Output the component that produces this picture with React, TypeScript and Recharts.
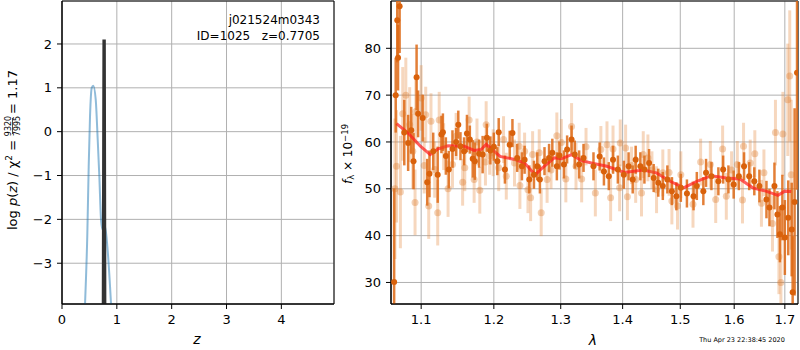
import React from "react";
import {
  LineChart,
  Line,
  ComposedChart,
  Scatter,
  ErrorBar,
  XAxis,
  YAxis,
  CartesianGrid,
  ReferenceArea,
} from "recharts";

const FONT = "DejaVu Sans";

// left panel: log p(z)
const zTicks = [0, 1, 2, 3, 4];
const logpTicks = [-3, -2, -1, 0, 1, 2];
const pzCurve: [number, number][] = [
  [0.42, -3.93], [0.462, -2.32], [0.487, -0.79], [0.511, 0.35], [0.542, 1.0],
  [0.571, 1.05], [0.615, 0.73], [0.651, -0.18], [0.681, -1.02], [0.712, -2.01],
  [0.742, -2.24], [0.785, -2.16], [0.827, -2.62], [0.876, -3.53], [0.894, -3.93],
];
const zBest: [number, number][] = [
  [0.752, -3.93], [0.764, 2.07], [0.772, 2.07], [0.782, -3.93],
];

// right panel: spectrum
const lamTicks = [1.1, 1.2, 1.3, 1.4, 1.5, 1.6, 1.7];
const fluxTicks = [30, 40, 50, 60, 70, 80];

// [lambda, flux, error]
const goodPts: [number, number, number][] = [
  [1.065, 30.1, 20], [1.067, 70, 8], [1.069, 86, 9], [1.07, 78, 7], [1.072, 89, 10],
  [1.078, 62, 7], [1.083, 59.8, 6], [1.087, 62.5, 5], [1.09, 55.9, 6], [1.094, 73.8, 7],
  [1.096, 66, 5], [1.102, 65.1, 5], [1.108, 51.4, 5], [1.111, 53.2, 5], [1.116, 58, 4],
  [1.122, 53, 6], [1.127, 61.6, 4], [1.129, 62.1, 4], [1.133, 57, 4], [1.137, 54.1, 4],
  [1.142, 58.5, 4], [1.147, 60, 3], [1.15, 63.7, 3], [1.153, 59.1, 3], [1.158, 58, 3],
  [1.162, 61.8, 4], [1.166, 60.5, 3], [1.17, 56.4, 4], [1.173, 55.9, 4], [1.179, 57.5, 3],
  [1.184, 57.3, 4], [1.19, 60.9, 3], [1.195, 58.2, 3], [1.2, 59, 3],
  [1.205, 55.9, 3], [1.207, 62.1, 3], [1.216, 54.1, 3], [1.223, 59.4, 3], [1.227, 61.9, 3],
  [1.234, 56.6, 3], [1.241, 54.8, 3], [1.245, 56.2, 3], [1.252, 52, 3], [1.259, 53, 3],
  [1.264, 54.8, 3], [1.268, 52, 3], [1.275, 55.9, 3], [1.282, 56.6, 3], [1.287, 57.7, 3],
  [1.294, 54.8, 3], [1.298, 57.1, 3], [1.305, 55.2, 3], [1.31, 58.4, 3], [1.317, 60.5, 3],
  [1.322, 57.3, 3], [1.329, 55.2, 3], [1.336, 56.6, 3],
  [1.352, 54.8, 3], [1.362, 56.9, 3], [1.369, 53.7, 3], [1.377, 52.7, 3], [1.384, 56.2, 3],
  [1.392, 54.1, 3], [1.402, 53, 3], [1.41, 54.8, 3], [1.417, 52, 3], [1.422, 56.2, 3],
  [1.43, 54.8, 3], [1.437, 54.1, 3], [1.445, 55.5, 3], [1.453, 52.3, 3], [1.461, 51.3, 3],
  [1.469, 50.6, 3], [1.477, 52, 3], [1.485, 49.5, 3], [1.493, 48.4, 3], [1.501, 50.2, 3],
  [1.512, 49, 3], [1.524, 48.4, 3], [1.53, 50.6, 3], [1.542, 49.5, 3], [1.547, 53.4, 3],
  [1.557, 52.7, 3], [1.57, 51.6, 3], [1.579, 54.1, 3], [1.589, 52, 3], [1.599, 50.9, 3],
  [1.609, 52.7, 3], [1.619, 54.8, 3], [1.629, 52.7, 3], [1.639, 51.6, 3], [1.649, 50.6, 3.5],
  [1.663, 47.7, 4], [1.669, 46, 4], [1.679, 50.6, 5], [1.685, 44.5, 5], [1.69, 40.3, 6],
  [1.695, 46, 7], [1.7, 39.6, 8], [1.707, 43.8, 8], [1.714, 41.3, 10], [1.716, 27.9, 12],
  [1.72, 47.2, 20], [1.725, 74.8, 25],
];

const otherPts: [number, number, number][] = [
  [1.066, 50, 15], [1.068, 54.8, 12], [1.073, 49.3, 12], [1.076, 66, 10], [1.08, 70, 8],
  [1.085, 63.7, 8], [1.089, 58, 8], [1.092, 47.1, 7], [1.093, 66.5, 7], [1.1, 69.4, 7],
  [1.104, 55, 6], [1.106, 65.8, 6], [1.11, 46.3, 7], [1.113, 64.4, 6], [1.118, 54.1, 6],
  [1.122, 44.9, 7], [1.124, 64.7, 6], [1.13, 59, 5], [1.136, 50, 6], [1.142, 55.2, 5],
  [1.147, 61.2, 5], [1.156, 51.4, 5], [1.159, 54.5, 5], [1.165, 64.7, 5], [1.172, 52, 5],
  [1.176, 60, 5], [1.18, 49.7, 5], [1.188, 55.7, 5], [1.189, 63.7, 5], [1.194, 57, 4],
  [1.199, 57.7, 5], [1.207, 54.5, 5], [1.214, 60.5, 5], [1.218, 52.7, 5], [1.23, 55.5, 5],
  [1.237, 59.1, 5], [1.238, 50.7, 5], [1.245, 58, 4], [1.25, 49.8, 5], [1.254, 48.1, 5],
  [1.257, 57.3, 5], [1.267, 57.7, 5], [1.27, 44.9, 5], [1.279, 52, 5], [1.285, 54, 4],
  [1.294, 61.3, 5], [1.301, 59.9, 5], [1.308, 52.1, 5], [1.317, 63.3, 5], [1.324, 54.8, 5],
  [1.333, 52.1, 5], [1.34, 59, 4],
  [1.355, 49.1, 5], [1.364, 58.4, 5], [1.374, 59.4, 5], [1.38, 48.1, 5], [1.384, 58.5, 5],
  [1.395, 50.2, 5], [1.396, 59.8, 5], [1.405, 58.7, 5], [1.408, 48.3, 5], [1.415, 55, 4],
  [1.422, 52, 5], [1.432, 49.1, 5], [1.435, 57.3, 5], [1.443, 56.6, 5], [1.45, 54, 4],
  [1.458, 49.8, 5], [1.469, 53.4, 5], [1.48, 53.5, 5], [1.485, 47.4, 5], [1.495, 46.3, 5],
  [1.501, 53, 5],
  [1.523, 46.7, 5], [1.537, 55.7, 5], [1.555, 55.2, 5], [1.565, 47.7, 5], [1.578, 58.5, 5],
  [1.585, 48.4, 5], [1.595, 54, 4], [1.606, 55.2, 5], [1.616, 47.6, 5], [1.618, 59.1, 5],
  [1.631, 55.5, 5], [1.64, 57.5, 5], [1.653, 46.9, 5], [1.658, 53.4, 5], [1.675, 42.6, 6],
  [1.681, 62, 7], [1.688, 35.5, 8], [1.692, 30, 10], [1.696, 61.7, 9], [1.706, 69, 12],
  [1.71, 74.1, 14], [1.713, 53, 16],
];

const modelFlux: [number, number][] = [
  [1.068, 63.9], [1.083, 61.9], [1.099, 59.1], [1.112, 57.3], [1.122, 58.5],
  [1.136, 59.2], [1.158, 59.1], [1.172, 58.2], [1.182, 58.4], [1.189, 59.5],
  [1.199, 58.2], [1.209, 56.9], [1.232, 56.2], [1.245, 55.5], [1.257, 53.6],
  [1.262, 53.1], [1.268, 54.0], [1.279, 55.3], [1.29, 56.6], [1.301, 56.4],
  [1.317, 57.3], [1.333, 56.0], [1.352, 55.4], [1.374, 54.8], [1.403, 53.5],
  [1.435, 54.0], [1.458, 53.4], [1.482, 51.6], [1.506, 50.2], [1.53, 51.6],
  [1.557, 52.8], [1.585, 52.3], [1.611, 52.1], [1.636, 50.2], [1.662, 49.5],
  [1.686, 48.6], [1.7, 49.5], [1.713, 49.4],
];

const minus = (v: number) => (v < 0 ? `\u2212${-v}` : `${v}`);
const tickStyle = { fill: "#000", fontSize: 13, fontFamily: FONT };

const PzLabel = () => (
  <g transform="translate(17,230) rotate(-90)" fontFamily={FONT} fill="#000">
    <text x={0} y={0} fontSize={13}>
      {"log "}
      <tspan fontStyle="italic">p</tspan>
      {"("}
      <tspan fontStyle="italic">z</tspan>
      {") / \u03c7"}
      <tspan dy={-5} fontSize={9}>2</tspan>
      <tspan dy={5}>{" ="}</tspan>
    </text>
    <text x={104} y={-6} fontSize={8} textAnchor="middle">9320</text>
    <line x1={96} x2={112} y1={-4.5} y2={-4.5} stroke="#000" strokeWidth={0.7} />
    <text x={104} y={3} fontSize={8} textAnchor="middle">7995</text>
    <text x={116} y={0} fontSize={13}>= 1.17</text>
  </g>
);

const FluxLabel = () => (
  <text
    transform="rotate(-90, 12, 154)"
    x={12}
    y={154}
    textAnchor="middle"
    fontSize={12}
    fontFamily={FONT}
    fill="#000"
  >
    <tspan fontStyle="italic">f</tspan>
    <tspan fontSize={8.5} dy={2}>λ</tspan>
    <tspan dy={-2}>{" \u00d7 10"}</tspan>
    <tspan fontSize={8.5} dy={-4.5}>{"\u221219"}</tspan>
  </text>
);

const ZLabel = () => (
  <text x={197} y={344} textAnchor="middle" fontSize={14} fontStyle="italic" fontFamily={FONT} fill="#000">
    z
  </text>
);

const LamLabel = () => (
  <text x={253} y={345} textAnchor="middle" fontSize={14} fontStyle="italic" fontFamily={FONT} fill="#000">
    λ
  </text>
);

const GoodDot = (p: any) => <circle cx={p.cx} cy={p.cy} r={3} fill="#d9610b" />;
const OtherDot = (p: any) => (
  <circle cx={p.cx} cy={p.cy} r={3.5} fill="rgba(222,120,40,0.35)" />
);

export default function App() {
  const pz = pzCurve.map(([z, logp]) => ({ z, logp }));
  const best = zBest.map(([z, logp]) => ({ z, logp }));
  const good = goodPts.map(([lam, f, e]) => ({ lam, f, e }));
  const other = otherPts.map(([lam, f, e]) => ({ lam, f, e }));
  const model = modelFlux.map(([lam, f]) => ({ lam, f }));

  return (
    <div
      style={{
        position: "absolute",
        left: 0,
        top: 0,
        width: 800,
        height: 350,
        background: "#fff",
        fontFamily: FONT,
      }}
    >
      {/* error bars must stay inside the spectrum frame */}
      <style>{`.spec .recharts-errorBars, .spec .recharts-errorBar, .spec .recharts-scatter { clip-path: url(#specClip); }`}</style>
      <svg width={0} height={0} style={{ position: "absolute" }}>
        <defs>
          <clipPath id="specClip" clipPathUnits="userSpaceOnUse">
            <rect x={51} y={1} width={407} height={303} />
          </clipPath>
        </defs>
      </svg>

      <div style={{ position: "absolute", left: 0, top: 0 }}>
        <LineChart width={340} height={350} margin={{ top: 1, right: 6, bottom: 16, left: 0 }}>
          <CartesianGrid stroke="#b0b0b0" strokeWidth={1} />
          <XAxis
            type="number"
            dataKey="z"
            domain={[0, 4.96]}
            ticks={zTicks}
            allowDataOverflow
            height={30}
            tickSize={5}
            tickMargin={6}
            tick={tickStyle}
            stroke="#000"
            label={ZLabel}
          />
          <YAxis
            type="number"
            dataKey="logp"
            domain={[-3.93, 2.98]}
            ticks={logpTicks}
            allowDataOverflow
            width={62}
            tickSize={5}
            tickMargin={5}
            tick={tickStyle}
            tickFormatter={minus}
            stroke="#000"
            label={PzLabel}
          />
          <ReferenceArea x1={0} x2={4.96} y1={-3.93} y2={2.98} fill="none" stroke="#000" strokeWidth={1} />
          {/* p(z) curve */}
          <Line
            data={pz}
            dataKey="logp"
            type="monotone"
            stroke="#1f77b4"
            strokeOpacity={0.5}
            strokeWidth={2}
            dot={false}
            isAnimationActive={false}
          />
          {/* best redshift */}
          <Line
            data={best}
            dataKey="logp"
            type="linear"
            stroke="#333"
            strokeWidth={3}
            dot={false}
            isAnimationActive={false}
          />
        </LineChart>
      </div>

      <div className="spec" style={{ position: "absolute", left: 340, top: 0 }}>
        <ComposedChart width={460} height={350} margin={{ top: 1, right: 2, bottom: 16, left: 0 }}>
          <CartesianGrid stroke="#b0b0b0" strokeWidth={1} />
          <XAxis
            type="number"
            dataKey="lam"
            scale="log"
            domain={[1.061, 1.727]}
            ticks={lamTicks}
            allowDataOverflow
            height={30}
            tickSize={5}
            tickMargin={6}
            tick={tickStyle}
            tickFormatter={(v) => Number(v).toFixed(1)}
            stroke="#000"
            label={LamLabel}
          />
          <YAxis
            type="number"
            dataKey="f"
            domain={[25.4, 90.1]}
            ticks={fluxTicks}
            allowDataOverflow
            width={51}
            tickSize={5}
            tickMargin={5}
            tick={tickStyle}
            stroke="#000"
            label={FluxLabel}
          />
          <ReferenceArea x1={1.061} x2={1.727} y1={25.4} y2={90.1} fill="none" stroke="#000" strokeWidth={1} />
          {/* other spectra */}
          <Scatter data={other} dataKey="f" shape={OtherDot} isAnimationActive={false}>
            <ErrorBar dataKey="e" direction="y" width={0} stroke="rgba(228,140,70,0.35)" strokeWidth={3} />
          </Scatter>
          {/* this spectrum */}
          <Scatter data={good} dataKey="f" shape={GoodDot} isAnimationActive={false}>
            <ErrorBar dataKey="e" direction="y" width={0} stroke="rgba(222,105,20,0.85)" strokeWidth={2.5} />
          </Scatter>
          {/* model */}
          <Line
            data={model}
            dataKey="f"
            type="linear"
            stroke="#ff1a1a"
            strokeOpacity={0.7}
            strokeWidth={3}
            dot={false}
            isAnimationActive={false}
          />
        </ComposedChart>
      </div>

      <svg
        width={800}
        height={350}
        style={{ position: "absolute", left: 0, top: 0, pointerEvents: "none" }}
        fontFamily={FONT}
        fill="#000"
      >
        <text x={320} y={24} textAnchor="end" fontSize={12}>j021524m0343</text>
        <text x={320} y={39.5} textAnchor="end" fontSize={12} style={{ whiteSpace: "pre" }}>
          {"ID=1025   z=0.7705"}
        </text>
        <text x={742} y={342} textAnchor="middle" fontSize={6.5}>Thu Apr 23 22:38:45 2020</text>
      </svg>
    </div>
  );
}
